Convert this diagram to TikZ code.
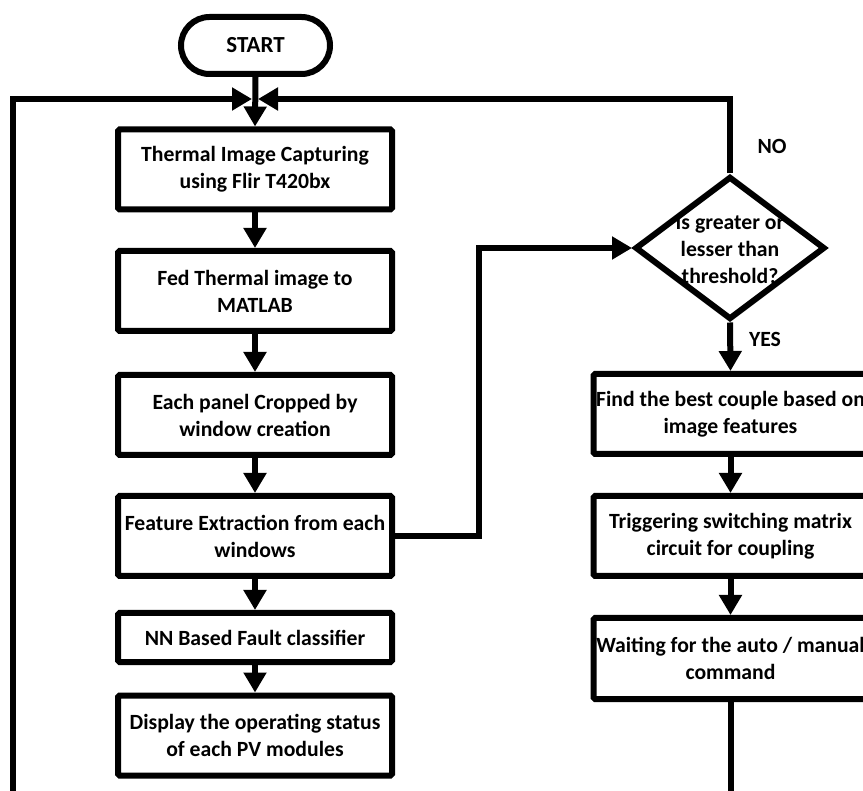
\documentclass[tikz,border=0pt]{standalone}
\usepackage{fontspec}
\setmainfont{Carlito}
\usetikzlibrary{arrows.meta, shapes.geometric, shapes.misc}

\tikzset{
  boxtext/.style={font=\bfseries\fontsize{21.7}{27}\selectfont, align=center},
  procbox/.style={boxtext, draw, line width=6pt, rounded corners=1.5pt, inner sep=0pt, minimum width=274pt, minimum height=80pt},
  termbox/.style={boxtext, font=\bfseries\fontsize{23}{27}\selectfont, draw, line width=6pt, rounded rectangle, inner sep=0pt, minimum width=149pt, minimum height=57pt},
  decbox/.style={draw, line width=6pt, diamond, inner sep=0pt, minimum width=190pt, minimum height=143pt},
  flowline/.style={line width=6pt},
  flowarrow/.style={flowline, -{Triangle[length=20pt,width=22pt]}}
}

\begin{document}
\begin{tikzpicture}[x=1pt,y=-1pt]
        \useasboundingbox (0,0) rectangle (863,791);
        \clip (0,0) rectangle (863,791);

        \node[termbox] (start) at (255.5,45.5) {START};
        \node[procbox] (capture) at (255,169.5) {Thermal Image Capturing\\using Flir T420bx};
        \node[procbox] (matlab) at (255,291) {Fed Thermal image to\\MATLAB};
        \node[procbox] (crop) at (255,415) {Each panel Cropped by\\window creation};
        \node[procbox] (feature) at (255,536) {Feature Extraction from each\\windows};
        \node[procbox, minimum height=49pt] (classify) at (255,637.5) {NN Based Fault classifier};
        \node[procbox] (display) at (255,735.5) {Display the operating status\\of each PV modules};

        \node[decbox] (thresh) at (730,248) {};
        \node[boxtext] (threshtext) at (730,250) {Is greater or\\lesser than\\threshold?};
        \node[procbox] (couple) at (730.5,414) {Find the best couple based on\\image features};
        \node[procbox] (trigger) at (730.5,536) {Triggering switching matrix\\circuit for coupling};
        \node[procbox, minimum height=81pt] (wait) at (730.5,658.5) {Waiting for the auto / manual\\command};

        \node[boxtext] (nolabel) at (772,146) {NO};
        \node[boxtext] (yeslabel) at (765,339) {YES};

        \coordinate (merge) at (255,99);
        \coordinate (jog) at (479,536);
        \coordinate (leftend) at (13,820);
        \coordinate (rightend) at (730.5,820);

        \draw[flowarrow] (start.south) -- (capture.north);
        \draw[flowarrow] (capture.south) -- (matlab.north);
        \draw[flowarrow] (matlab.south) -- (crop.north);
        \draw[flowarrow] (crop.south) -- (feature.north);
        \draw[flowarrow] (feature.south) -- (classify.north);
        \draw[flowarrow] (classify.south) -- (display.north);

        \draw[flowarrow] (feature.east) -- (jog) |- (thresh.west);
        \draw[flowarrow, shorten >=3pt] (thresh.north) |- (merge);
        \draw[flowarrow, shorten >=3pt] (leftend) |- (merge);
        \draw[flowarrow] (thresh.south) -- (couple.north);
        \draw[flowarrow] (couple.south) -- (trigger.north);
        \draw[flowarrow] (trigger.south) -- (wait.north);
        \draw[flowline] (wait.south) -- (rightend);
    \end{tikzpicture}
\end{document}
